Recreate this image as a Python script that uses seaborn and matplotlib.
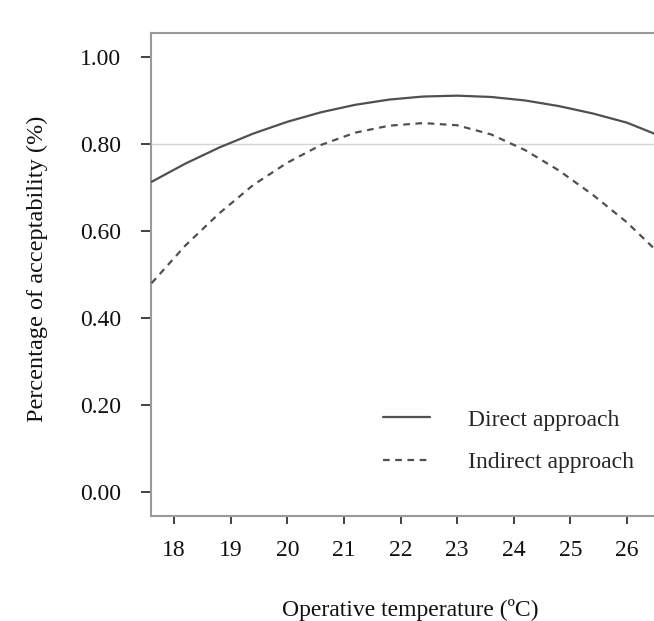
import pandas as pd
import seaborn as sns
import matplotlib.pyplot as plt
from matplotlib.ticker import FormatStrFormatter

# values
temps = [17.6, 18.2, 18.8, 19.4, 20.0, 20.6, 21.2, 21.8,
         22.4, 23.0, 23.6, 24.2, 24.8, 25.4, 26.0, 26.48]
direct = [0.713, 0.755, 0.792, 0.824, 0.851, 0.873, 0.890, 0.902,
          0.909, 0.911, 0.908, 0.900, 0.887, 0.870, 0.849, 0.824]
indirect = [0.480, 0.567, 0.641, 0.706, 0.757, 0.798, 0.826, 0.842,
            0.848, 0.843, 0.822, 0.786, 0.739, 0.683, 0.620, 0.560]
series_names = ['Direct approach', 'Indirect approach']
x_ticks = [18, 19, 20, 21, 22, 23, 24, 25, 26]
y_ticks = [0.0, 0.2, 0.4, 0.6, 0.8, 1.0]

df = pd.DataFrame({
    'temp': temps * 2,
    'acc': direct + indirect,
    'approach': [series_names[0]] * len(temps) + [series_names[1]] * len(temps),
})

sns.set_theme(style='white')
plt.rcParams['font.family'] = ['Liberation Serif', 'DejaVu Serif']

fig = plt.figure(figsize=(6.54, 6.21), dpi=100)
ax = fig.add_axes([151 / 654, 1 - 516 / 621, 1 - 151 / 654, (516 - 33) / 621])

# reference line at 0.80
ax.axhline(0.80, color='#d4d4d4', lw=1.0, zorder=1)

sns.lineplot(data=df, x='temp', y='acc', style='approach',
             dashes={series_names[0]: '', series_names[1]: (3, 2.5)},
             color='#505050', lw=1.6, ax=ax, zorder=3)

ax.set_xlim(17.59, 26.48)
ax.set_ylim(-0.055, 1.055)
ax.set_xticks(x_ticks)
ax.set_yticks(y_ticks)
ax.yaxis.set_major_formatter(FormatStrFormatter('%.2f'))

for side in ['left', 'bottom', 'top']:
    ax.spines[side].set_color('#9a9a9a')
    ax.spines[side].set_linewidth(1.5)
ax.spines['right'].set_visible(False)

ax.tick_params(axis='y', which='major', left=True, length=7.5, width=1.3,
               color='#333333', pad=14, labelsize=17, labelcolor='#111111')
ax.tick_params(axis='x', which='major', bottom=True, length=6, width=1.3,
               color='#333333', pad=11, labelsize=17, labelcolor='#111111')

ax.set_xlabel('Operative temperature (ºC)', fontsize=17, color='#111111')
ax.set_ylabel('Percentage of acceptability (%)', fontsize=17.5, color='#111111')
ax.xaxis.set_label_coords(0.515, -0.172)
ax.yaxis.set_label_coords(-0.205, 0.511)

ax.legend(title=None, frameon=False, fontsize=17, loc='upper left',
          bbox_to_anchor=(0.461, 0.2215), borderpad=0, borderaxespad=0,
          handlelength=2.0, handletextpad=1.6, labelspacing=0.9)

plt.savefig('out.png', dpi=100)
